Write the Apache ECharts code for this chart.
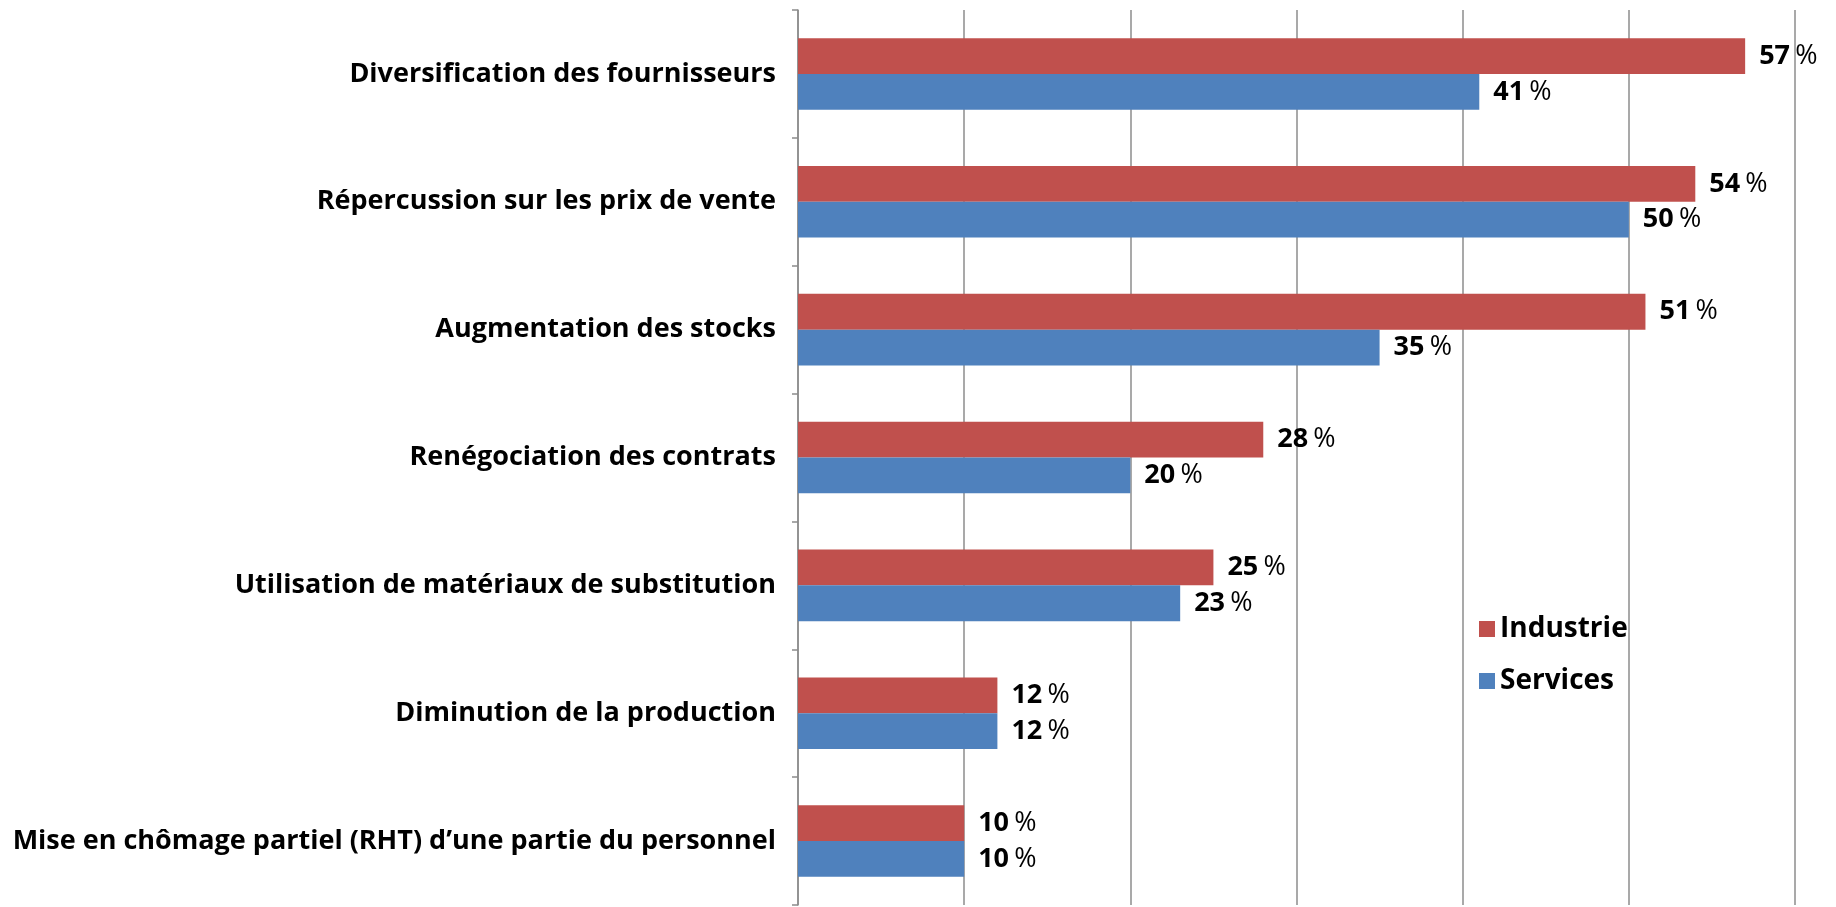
<!DOCTYPE html>
<html>
<head>
<meta charset="utf-8">
<script src="https://cdn.jsdelivr.net/npm/echarts@6/dist/echarts.min.js"></script>
<style>
  html, body { margin: 0; padding: 0; background: #fff; }
  #chart { width: 1836px; height: 907px; }
</style>
</head>
<body>
<div id="chart"></div>
<script>
// catégories (haut -> bas)
const categories = [
  'Diversification des fournisseurs',
  'Répercussion sur les prix de vente',
  'Augmentation des stocks',
  'Renégociation des contrats',
  'Utilisation de matériaux de substitution',
  'Diminution de la production',
  'Mise en chômage partiel (RHT) d\u2019une partie du personnel'
];
const industrie = [57, 54, 51, 28, 25, 12, 10];
const services = [41, 50, 35, 20, 23, 12, 10];

const FONT = '"Open Sans", sans-serif';

const valueLabel = {
  show: true,
  position: 'right',
  distance: 14,
  formatter: p => '{n|' + p.value + '}{s| }{p|%}',
  rich: {
    n: { fontFamily: FONT, fontWeight: 'bold', fontSize: 27, color: '#000' },
    s: { fontFamily: FONT, fontSize: 20 },
    p: { fontFamily: FONT, fontWeight: 'normal', fontSize: 27, color: '#000' }
  }
};

const chart = echarts.init(document.getElementById('chart'));
chart.setOption({
  animation: false,
  grid: { left: 798, right: 41, top: 10, bottom: 2, containLabel: false },
  legend: {
    orient: 'vertical',
    left: 1474,
    top: 610,
    itemWidth: 16,
    itemHeight: 16,
    itemGap: 24,
    icon: 'rect',
    textStyle: { fontFamily: FONT, fontWeight: 'bold', fontSize: 28, color: '#000' },
    data: ['Industrie', 'Services']
  },
  xAxis: {
    type: 'value',
    min: 0,
    max: 60,
    interval: 10,
    axisLine: { show: false },
    axisTick: { show: false },
    axisLabel: { show: false },
    splitLine: { show: true, lineStyle: { color: '#8c8c8c', width: 1.5 } }
  },
  yAxis: {
    type: 'category',
    inverse: true,
    data: categories,
    axisLine: { show: true, lineStyle: { color: '#8c8c8c', width: 1.5 } },
    axisTick: { show: true, length: 6, lineStyle: { color: '#8c8c8c', width: 1.5 } },
    axisLabel: {
      margin: 22,
      fontFamily: FONT,
      fontWeight: 'bold',
      fontSize: 27,
      color: '#000'
    }
  },
  series: [
    {
      name: 'Industrie',
      type: 'bar',
      data: industrie,
      barGap: '0%',
      barCategoryGap: '44%',
      itemStyle: { color: '#C0504D' },
      label: valueLabel
    },
    {
      name: 'Services',
      type: 'bar',
      data: services,
      barGap: '0%',
      barCategoryGap: '44%',
      itemStyle: { color: '#4F81BD' },
      label: valueLabel
    }
  ]
});
</script>
</body>
</html>
